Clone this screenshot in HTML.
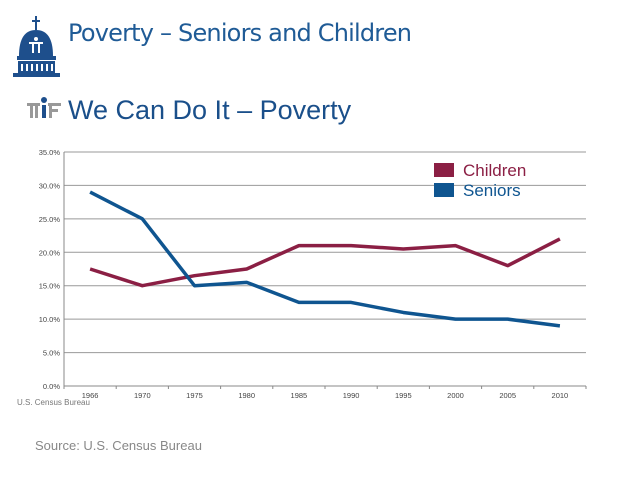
<!DOCTYPE html>
<html><head><meta charset="utf-8"><style>
body{margin:0;background:#fff;width:638px;height:479px;overflow:hidden;position:relative;font-family:"Liberation Sans",sans-serif}
.t{position:absolute;white-space:nowrap}
</style></head><body>
<svg style="position:absolute;left:13px;top:14px" width="48" height="66" viewBox="0 0 48 66">
<rect x="22" y="2" width="2" height="14" fill="#1e4f8c"/>
<rect x="19" y="6" width="8" height="2" fill="#1e4f8c"/>
<path d="M6 42 Q6 16 23 16 Q40 16 40 42 Z" fill="#1e4f8c"/>
<rect x="4" y="42" width="39" height="4" fill="#1e4f8c"/>
<rect x="5" y="47" width="37" height="12" fill="#1e4f8c"/>
<rect x="0" y="59" width="47" height="4" fill="#1e4f8c"/>
<g fill="#fff"><rect x="8" y="50" width="2" height="7"/><rect x="13" y="50" width="2" height="7"/><rect x="18" y="50" width="2" height="7"/><rect x="23" y="50" width="2" height="7"/><rect x="28" y="50" width="2" height="7"/><rect x="33" y="50" width="2" height="7"/><rect x="38" y="50" width="2" height="7"/>
<rect x="16" y="28" width="14" height="2"/><rect x="19" y="28" width="2" height="11"/><rect x="25" y="28" width="2" height="11"/><circle cx="23" cy="25" r="2"/></g>
</svg>
<div class="t" style="left:68px;top:19px;font-size:24px;color:#1f5b96;font-family:'DejaVu Sans',sans-serif;letter-spacing:-0.8px">Poverty – Seniors and Children</div>
<svg style="position:absolute;left:27px;top:97px" width="34" height="22" viewBox="0 0 34 22">
<circle cx="17" cy="3" r="3" fill="#1e4f8c"/>
<g fill="#999"><rect x="0" y="6" width="13" height="3"/><rect x="3" y="6" width="3" height="15"/><rect x="8" y="6" width="3" height="15"/>
<rect x="15" y="8" width="4" height="13" fill="#1e4f8c"/>
<rect x="21" y="6" width="13" height="3"/><rect x="22" y="6" width="3" height="15"/><rect x="22" y="12" width="9" height="3"/></g>
</svg>
<div class="t" style="left:68px;top:95px;font-size:27px;color:#1a4f8a">We Can Do It – Poverty</div>
<svg id="chart" style="position:absolute;left:0;top:0" width="638" height="479"></svg>
<div class="t" style="left:17px;top:398px;font-size:8px;color:#777">U.S. Census Bureau</div>
<div class="t" style="left:35px;top:438px;font-size:13px;color:#888">Source: U.S. Census Bureau</div>
<script>
const categories=["1966","1970","1975","1980","1985","1990","1995","2000","2005","2010"];
const children=[17.5,15.0,16.5,17.5,21.0,21.0,20.5,21.0,18.0,22.0];
const seniors=[29.0,25.0,15.0,15.5,12.5,12.5,11.0,10.0,10.0,9.0];
const yTicks=[0,5,10,15,20,25,30,35];
const NS="http://www.w3.org/2000/svg";
const svg=document.getElementById('chart');
const x0=64,x1=586,yTop=152,yBot=386,yMax=35;
const band=(x1-x0)/categories.length;
const xs=i=>x0+band*(i+0.5);
const ys=v=>yBot-(v/yMax)*(yBot-yTop);
function mk(t,a){const e=document.createElementNS(NS,t);for(const k in a)e.setAttribute(k,a[k]);svg.appendChild(e);return e;}
yTicks.forEach(v=>{
 if(v>0){const g=mk('line',{x1:x0,x2:x1,y1:ys(v),y2:ys(v),stroke:'#999','stroke-width':1});
 
 }
 const t=mk('text',{x:x0-4,y:ys(v)+3,'text-anchor':'end','font-size':7.5,fill:'#444','font-family':'Liberation Sans'});
 t.textContent=v.toFixed(1)+'%';
 
 
});
const ya=mk('line',{x1:x0,x2:x0,y1:yTop,y2:yBot,stroke:'#888'});


const xa=mk('line',{x1:x0,x2:x1,y1:yBot,y2:yBot,stroke:'#888'});


for(let i=0;i<=categories.length;i++){const tk=mk('line',{x1:x0+band*i,x2:x0+band*i,y1:yBot,y2:yBot+3,stroke:'#888'});

}
categories.forEach((c,i)=>{const t=mk('text',{x:xs(i),y:yBot+12,'text-anchor':'middle','font-size':7.5,fill:'#444','font-family':'Liberation Sans'});t.textContent=c;

});
function line(data,color,name){const p=mk('polyline',{points:data.map((v,i)=>xs(i)+','+ys(v)).join(' '),fill:'none',stroke:color,'stroke-width':3.5,'stroke-linejoin':'round'});

}
line(children,'#8b1f44','children-line');
line(seniors,'#0f5590','seniors-line');
[['Children','#8b1f44',163],['Seniors','#0f5590',183]].forEach(([n,c,y])=>{
 const r=mk('rect',{x:434,y:y,width:20,height:14,fill:c});
 
 
 const t=mk('text',{x:463,y:y+13,'font-size':17,fill:c,'font-family':'Liberation Sans'});t.textContent=n;
 
 
});
</script>
</body></html>
